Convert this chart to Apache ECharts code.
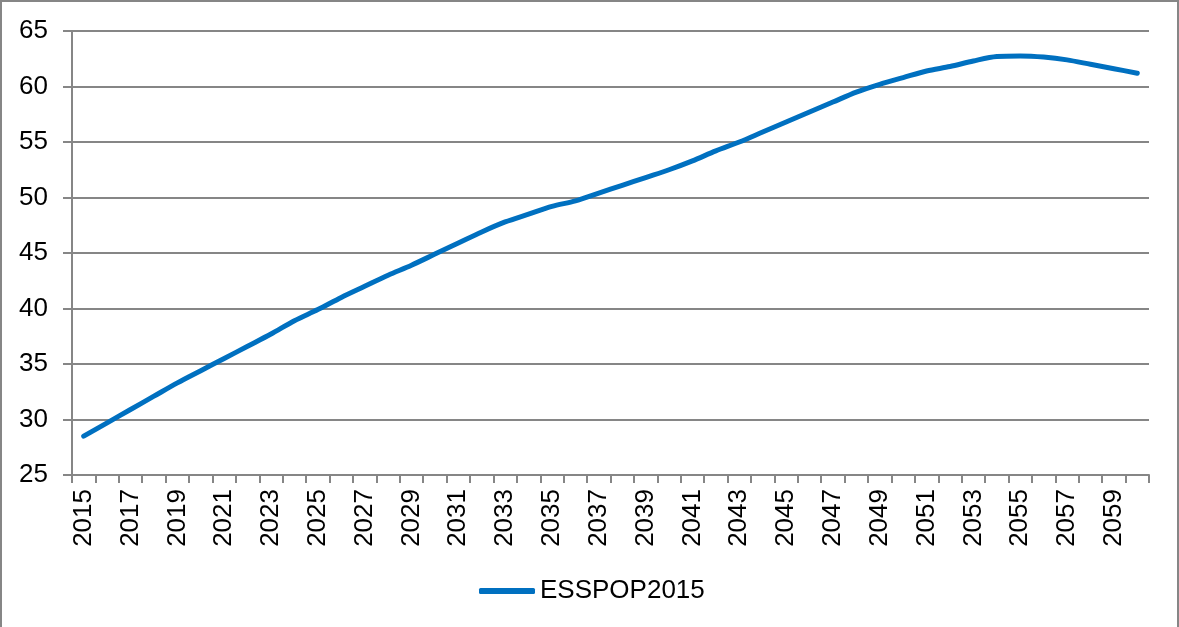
<!DOCTYPE html>
<html>
<head>
<meta charset="utf-8">
<script src="https://cdn.jsdelivr.net/npm/echarts@6/dist/echarts.min.js"></script>
<style>
  html, body { margin: 0; padding: 0; background: #fff; }
  #chart { width: 1179px; height: 627px; }
</style>
</head>
<body>
<div id="chart"></div>
<script>
// Projected population series, one value per year 2015–2060
const years = [];
for (let y = 2015; y <= 2060; y++) years.push(String(y));

const seriesName = 'ESSPOP2015';
const values = [
  28.5, 29.7, 30.9, 32.1, 33.3, 34.4, 35.5, 36.6, 37.7, 38.9,
  39.9, 41.0, 42.0, 43.0, 43.9, 44.9, 45.9, 46.9, 47.8, 48.5,
  49.2, 49.7, 50.4, 51.1, 51.8, 52.5, 53.3, 54.2, 55.0, 55.9,
  56.8, 57.7, 58.6, 59.5, 60.2, 60.8, 61.4, 61.8, 62.3, 62.7,
  62.75, 62.65, 62.4, 62.0, 61.6, 61.2
];

const yMin = 25, yMax = 65, yStep = 5;

const gray = '#868686';
const blue = '#0070C0';
const font = '"Liberation Sans", Arial, sans-serif';

const chart = echarts.init(document.getElementById('chart'));
chart.setOption({
  backgroundColor: '#fff',
  animation: false,
  textStyle: { fontFamily: font },
  grid: { left: 72, right: 30, top: 31, bottom: 152, containLabel: false },
  graphic: [{
    type: 'polyline',
    shape: { points: [[1, 630], [1, 1], [1178, 1], [1178, 630]] },
    style: { stroke: gray, lineWidth: 2, fill: null },
    silent: true
  }],
  legend: {
    data: [{ name: seriesName, icon: 'roundRect' }],
    bottom: 18,
    left: 474,
    itemWidth: 56,
    itemHeight: 6,
    itemGap: 5,
    itemStyle: { color: blue, borderWidth: 0 },
    textStyle: { fontFamily: font, fontSize: 26, color: '#000', padding: [0, 0, 0, 0] }
  },
  xAxis: {
    type: 'category',
    data: years,
    boundaryGap: true,
    axisLine: { lineStyle: { color: gray, width: 2 } },
    axisTick: { show: true, interval: 0, length: 8, lineStyle: { color: gray, width: 2 } },
    axisLabel: {
      interval: 1,
      rotate: 90,
      margin: 14,
      fontFamily: font,
      fontSize: 26,
      color: '#000'
    },
    splitLine: { show: false }
  },
  yAxis: {
    type: 'value',
    min: yMin,
    max: yMax,
    interval: yStep,
    axisLine: { show: true, lineStyle: { color: gray, width: 2 } },
    axisTick: { show: true, length: 9, lineStyle: { color: gray, width: 2 } },
    axisLabel: { margin: 24, fontFamily: font, fontSize: 26, color: '#000' },
    splitLine: { show: true, lineStyle: { color: gray, width: 2 } }
  },
  series: [{
    name: seriesName,
    type: 'line',
    data: values,
    smooth: 0.3,
    symbol: 'none',
    lineStyle: { color: blue, width: 5, cap: 'round' },
    itemStyle: { color: blue }
  }]
});
</script>
</body>
</html>
